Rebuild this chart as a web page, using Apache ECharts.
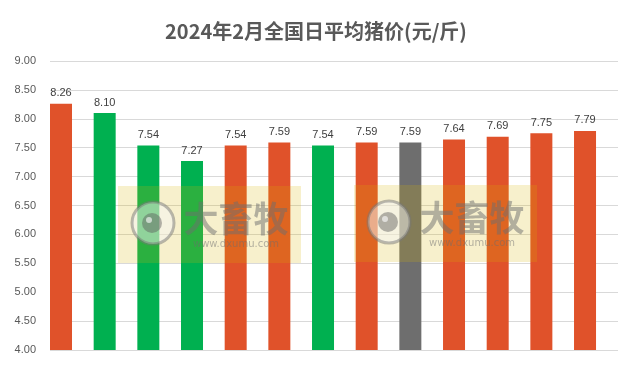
<!DOCTYPE html>
<html><head><meta charset="utf-8">
<script src="https://cdn.jsdelivr.net/npm/echarts@6/dist/echarts.min.js"></script>
<style>html,body{margin:0;padding:0;background:#fff}#c{width:632px;height:377px}</style>
</head><body><div id="c"></div>
<script>
const titleText = '2024年2月全国日平均猪价(元/斤)';
const prices = [8.26, 8.10, 7.54, 7.27, 7.54, 7.59, 7.54, 7.59, 7.59, 7.64, 7.69, 7.75, 7.79];
const barColors = ['#E0522A','#00B050','#00B050','#00B050','#E0522A','#E0522A','#00B050','#E0522A','#6E6E6E','#E0522A','#E0522A','#E0522A','#E0522A'];
const yTicks = [4.0, 9.0, 0.5]; // min, max, interval

const chart = echarts.init(document.getElementById('c'));

function watermark(x, y) {
  const z = 100;
  return {
    type: 'group', left: x, top: y, z: z, silent: true,
    children: [
      { type: 'rect', z: z, shape: { x: 0, y: 0, width: 183, height: 77 }, style: { fill: 'rgba(215,178,0,0.2)' } },
      { type: 'circle', z: z + 1, shape: { cx: 35, cy: 37, r: 21 }, style: { fill: 'rgba(245,245,245,0.5)', stroke: 'rgba(120,120,120,0.5)', lineWidth: 3 } },
      { type: 'circle', z: z + 2, shape: { cx: 34, cy: 37, r: 10 }, style: { fill: 'rgba(90,90,90,0.45)' } },
      { type: 'circle', z: z + 3, shape: { cx: 31, cy: 34, r: 3 }, style: { fill: 'rgba(255,255,255,0.6)' } },
      { type: 'text', z: z + 1, style: { x: 118, y: 33, text: '大畜牧', fill: 'rgba(110,110,110,0.5)', font: 'bold 35px "Noto Sans CJK SC"', align: 'center', verticalAlign: 'middle' } },
      { type: 'text', z: z + 1, style: { x: 118, y: 58, text: 'www.dxumu.com', fill: 'rgba(110,110,110,0.5)', font: '10px "DejaVu Sans"', align: 'center', verticalAlign: 'middle' } }
    ]
  };
}

chart.setOption({
  animation: false,
  title: {
    text: titleText, left: 'center', top: 16,
    textStyle: { fontFamily: '"Noto Sans CJK SC"', fontSize: 20, fontWeight: 'bold', color: '#595959' }
  },
  grid: { left: 50, right: 14, top: 61, bottom: 27, containLabel: false },
  xAxis: {
    type: 'value', min: -0.252, max: 12.755,
    axisLine: { show: false }, axisTick: { show: false }, axisLabel: { show: false }, splitLine: { show: false }
  },
  yAxis: {
    type: 'value', min: yTicks[0], max: yTicks[1], interval: yTicks[2],
    axisLine: { show: false }, axisTick: { show: false },
    axisLabel: { formatter: v => v.toFixed(2), color: '#595959', fontSize: 11, fontFamily: '"Liberation Sans", Arial', margin: 14 },
    splitLine: { lineStyle: { color: '#D9D9D9', width: 1 } }
  },
  series: [{
    type: 'bar', barWidth: 22,
    data: prices.map((v, i) => ({ value: [i, v], itemStyle: { color: barColors[i] } })),
    label: {
      show: true, position: 'top', distance: 5,
      formatter: p => p.value[1].toFixed(2),
      color: '#404040', fontSize: 11, fontFamily: '"Liberation Sans", Arial'
    }
  }],
  graphic: [watermark(118, 186), watermark(354, 185)]
});
</script>
</body></html>
